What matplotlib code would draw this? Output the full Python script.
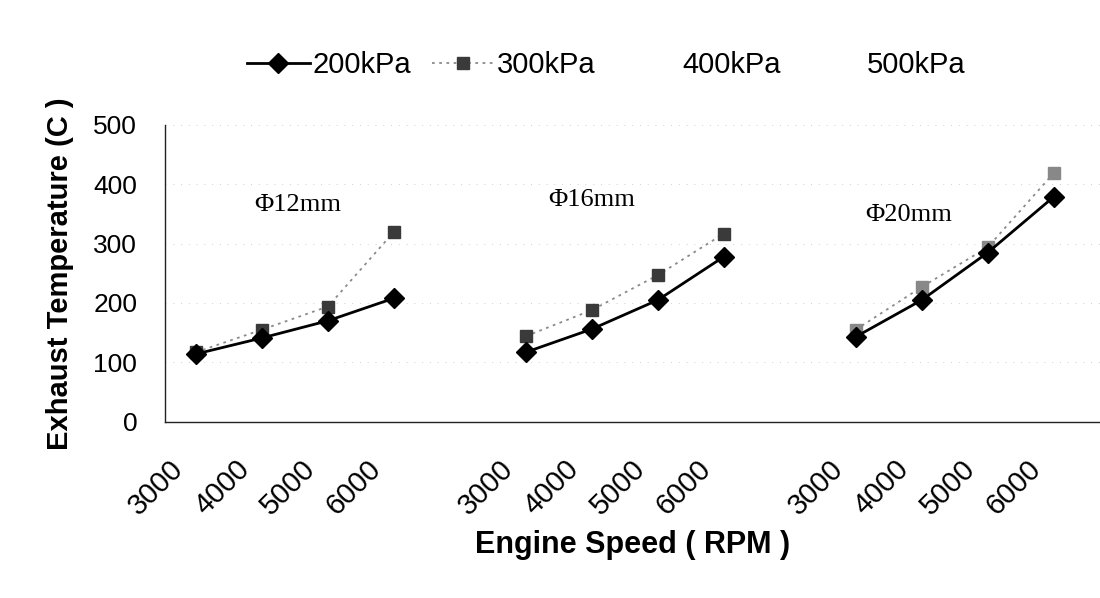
import numpy as np
import matplotlib.pyplot as plt
import matplotlib.transforms as mtransforms
from matplotlib.lines import Line2D

# engine speed categories and the three orifice diameters
rpm_labels = ['3000', '4000', '5000', '6000']
diameters = ['Φ12mm', 'Φ16mm', 'Φ20mm']
pressures = ['200kPa', '300kPa', '400kPa', '500kPa']

# exhaust temperature (C)
temp_200 = [[114, 141, 170, 208],
            [117, 156, 205, 278],
            [143, 205, 285, 379]]
temp_300 = [[117, 155, 194, 320],
            [144, 188, 247, 317],
            [155, 227, 294, 419]]

plt.rcParams['font.family'] = ['Liberation Sans', 'DejaVu Sans']

fig = plt.figure(figsize=(11, 5.98), dpi=100)
ax = fig.add_axes([0.15, 0.295, 0.85, 0.496])

sq_colors = ['#3a3a3a', '#3a3a3a', '#888888']
xticks, xlabels = [], []
for g in range(len(diameters)):
    x = g * (len(rpm_labels) + 1) + np.arange(len(rpm_labels))
    xticks += list(x)
    xlabels += rpm_labels
    ax.plot(x, temp_300[g], linestyle=(0, (1.5, 2.5)), color='#8a8a8a', lw=1.3,
            marker='s', ms=8, mfc=sq_colors[g], mec=sq_colors[g], zorder=3)
    ax.plot(x, temp_200[g], '-', color='black', lw=2.0,
            marker='D', ms=10.5, mfc='black', mec='black', zorder=4)

# diameter labels inside each group
label_pos = [(1.54, 365), (6.0, 374), (10.8, 348)]
for name, (lx, ly) in zip(diameters, label_pos):
    ax.text(lx, ly, name, family=['Liberation Serif', 'DejaVu Serif'],
            fontsize=19, ha='center', va='center')

ax.set_ylim(0, 500)
ax.set_xlim(-0.47, 13.7)
ax.set_yticks(np.arange(0, 501, 100))
ax.set_xticks(xticks)
ax.tick_params(axis='x', length=0, pad=24)
ax.tick_params(axis='y', length=0, pad=20, labelsize=19)
ax.set_xticklabels(xlabels, rotation=45, ha='right', va='top',
                   rotation_mode='anchor', fontsize=21)
# labels sit a little left of their category, as in the scan
# (has to come after tick_params, which resets the label transforms)
shift = mtransforms.ScaledTranslation(-27 / 100, 0, fig.dpi_scale_trans)
for lab in ax.get_xticklabels():
    lab.set_transform(lab.get_transform() + shift)
ax.yaxis.grid(True, linestyle=(0, (1, 7)), color='#cfcfcf', lw=0.7)
ax.set_axisbelow(True)

for s in ['top', 'right']:
    ax.spines[s].set_visible(False)
for s in ['left', 'bottom']:
    ax.spines[s].set_color('#222222')
    ax.spines[s].set_linewidth(1.0)

ax.set_ylabel('Exhaust Temperature (C )', fontsize=21, fontweight='bold', labelpad=14)
ax.set_xlabel('Engine Speed ( RPM )', fontsize=22, fontweight='bold', labelpad=7)

# legend: 400 and 500 kPa series have no visible marks in the scan
handles = [
    Line2D([], [], color='black', lw=2.0, marker='D', ms=10.5),
    Line2D([], [], color='#8a8a8a', lw=1.3, linestyle=(0, (1.5, 2.5)),
           marker='s', ms=8, mfc='#3a3a3a', mec='#3a3a3a'),
    Line2D([], [], color='none'),
    Line2D([], [], color='none'),
]
fig.legend(handles, pressures, loc='center', bbox_to_anchor=(0.551, 0.891),
           ncol=4, frameon=False, fontsize=21, handlelength=2.15,
           handletextpad=0.1, columnspacing=0.7)

fig.savefig('out.png', dpi=100)
